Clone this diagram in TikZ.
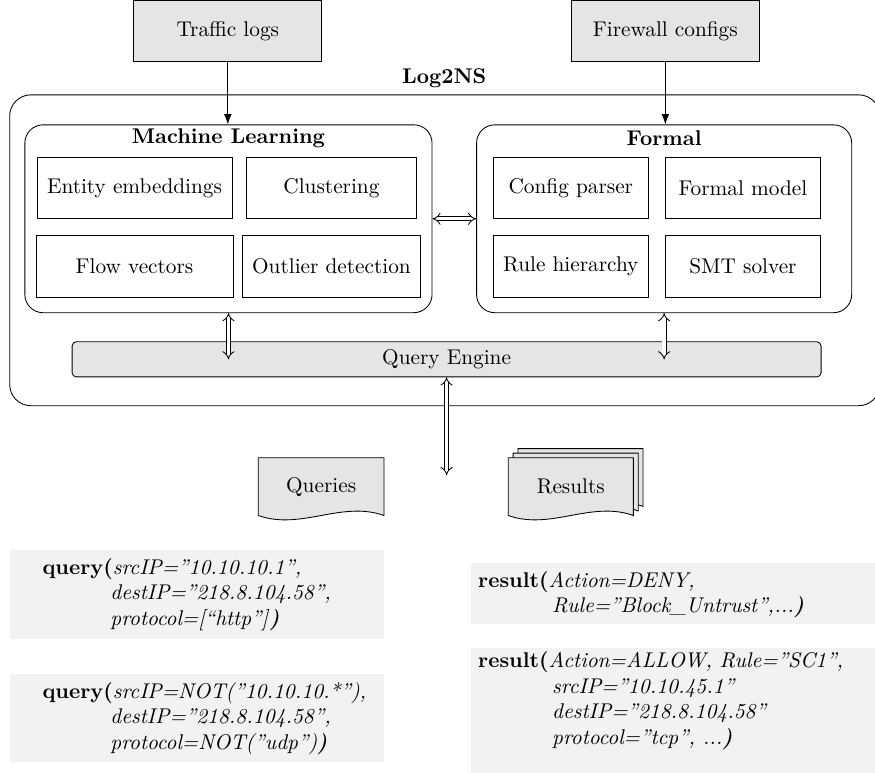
\documentclass[tikz,border=0pt]{standalone}
\usepackage{tikz}
\usetikzlibrary{arrows.meta,positioning,backgrounds}

\tikzset{
  inputbox/.style={draw, fill=gray!20, minimum width=3.1cm, minimum height=1.02cm},
  outerbox/.style={draw, rounded corners=0.35cm},
  module/.style={draw, rounded corners=0.3cm, minimum height=3.1cm},
  part/.style={draw, minimum height=1.02cm, minimum width=#1},
  heading/.style={font=\bfseries},
  engine/.style={draw, fill=gray!20, rounded corners=2pt, minimum width=12.36cm, minimum height=0.58cm},
  twoway/.style={double, double distance=1.6pt, {Implies}-{Implies}},
  docsheet/.style={draw, fill=gray!20},
  codebox/.style={fill=gray!10, anchor=north west, inner sep=0pt},
  codetext/.style={align=left, anchor=north west, inner sep=0pt},
}

\begin{document}
\begin{tikzpicture}

    \useasboundingbox (0,0) rectangle (14.44,-12.755);

    % inputs
    \node[inputbox] (tl) at (3.76,-0.51) {Traffic logs};
    \node[inputbox] (fc) at (10.98,-0.51) {Firewall configs};

    % Log2NS system
    \node[heading] (lns) at (7.33,-1.29) {Log2NS};
    \node[outerbox, minimum width=14.36cm, minimum height=5.13cm] (sys) at (7.34,-4.13) {};

    \node[module, minimum width=6.72cm] (ml) at (3.77,-3.61) {};
    \node[heading] (mlt) at (3.77,-2.28) {Machine Learning};
    \node[part=3.22cm] (emb) at (2.22,-3.10) {Entity embeddings};
    \node[part=2.82cm] (clu) at (5.47,-3.10) {Clustering};
    \node[part=3.25cm] (flo) at (2.22,-4.39) {Flow vectors};
    \node[part=2.95cm] (odt) at (5.47,-4.39) {Outlier detection};

    \node[module, minimum width=6.19cm] (fm) at (10.96,-3.61) {};
    \node[heading] (fmt) at (10.96,-2.28) {Formal};
    \node[part=2.57cm] (cfg) at (9.42,-3.10) {Config parser};
    \node[part=2.57cm] (mdl) at (12.26,-3.10) {Formal model};
    \node[part=2.57cm] (rul) at (9.42,-4.39) {Rule hierarchy};
    \node[part=2.57cm] (smt) at (12.26,-4.39) {SMT solver};

    \node[engine] (qe) at (7.37,-5.93) {Query Engine};

    % documents
    \node[minimum width=2.06cm, minimum height=0.94cm] (qry) at (5.30,-8.03) {Queries};
    \node[minimum width=2.05cm, minimum height=0.94cm] (res) at (9.42,-8.03) {Results};
    \coordinate (io) at (7.37,-7.84);

    \begin{scope}[on background layer]
        \draw[docsheet] (qry.north west) -- (qry.north east) -- (qry.south east)
            .. controls +(-0.7,0.25) and +(0.7,-0.25) .. (qry.south west) -- cycle;
        \foreach \k in {2,1,0}
            \draw[docsheet] ([shift={(\k*0.08,\k*0.075)}]res.north west)
                -- ([shift={(\k*0.08,\k*0.075)}]res.north east)
                -- ([shift={(\k*0.08,\k*0.075)}]res.south east)
                .. controls +(-0.7,0.25) and +(0.7,-0.25) .. ([shift={(\k*0.08,\k*0.075)}]res.south west)
                -- cycle;
    \end{scope}

    \draw[-{Latex}] (tl) -- (tl |- ml.north);
    \draw[-{Latex}] (fc) -- (fc |- fm.north);
    \draw[twoway] (ml) -- (fm);
    \draw[twoway] (ml.south) -- (ml.south |- qe);
    \draw[twoway] (fm.south) -- (fm.south |- qe);
    \draw[twoway] (qe.south) -- (io);

    % example queries and results
    \node[codebox, minimum width=6.17cm, minimum height=1.455cm] (q1box) at (0.165,-9.075) {};
    \node[codetext] (q1) at ([xshift=0.53cm, yshift=-0.13cm]q1box.north west)
        {\textbf{query(}\textit{srcIP=”10.10.10.1”,}\\
         \hspace*{1.12cm}\textit{destIP=”218.8.104.58”,}\\
         \hspace*{1.12cm}\textit{protocol=[“http”]}\textbf{\textit{)}}};

    \node[codebox, minimum width=6.17cm, minimum height=1.455cm] (q2box) at (0.165,-11.12) {};
    \node[codetext] (q2) at ([xshift=0.53cm, yshift=-0.13cm]q2box.north west)
        {\textbf{query(}\textit{srcIP=NOT(”10.10.10.*”),}\\
         \hspace*{1.12cm}\textit{destIP=”218.8.104.58”,}\\
         \hspace*{1.12cm}\textit{protocol=NOT(”udp”)}\textbf{\textit{)}}};

    \node[codebox, minimum width=6.9cm, minimum height=1.0cm] (r1box) at (7.77,-9.29) {};
    \node[codetext] (r1) at ([xshift=0.115cm, yshift=-0.13cm]r1box.north west)
        {\textbf{result(}\textit{Action=DENY,}\\
         \hspace*{1.22cm}\textit{Rule=”Block\_Untrust”,...}\textbf{\textit{)}}};

    \node[codebox, minimum width=6.9cm, minimum height=2.1cm] (r2box) at (7.77,-10.69) {};
    \node[codetext] (r2) at ([xshift=0.115cm, yshift=-0.06cm]r2box.north west)
        {\textbf{result(}\textit{Action=ALLOW, Rule=”SC1”,}\\
         \hspace*{1.22cm}\textit{srcIP=”10.10.45.1”}\\
         \hspace*{1.22cm}\textit{destIP=”218.8.104.58”}\\
         \hspace*{1.22cm}\textit{protocol=”tcp”, ...}\textbf{\textit{)}}};

\end{tikzpicture}
\end{document}
